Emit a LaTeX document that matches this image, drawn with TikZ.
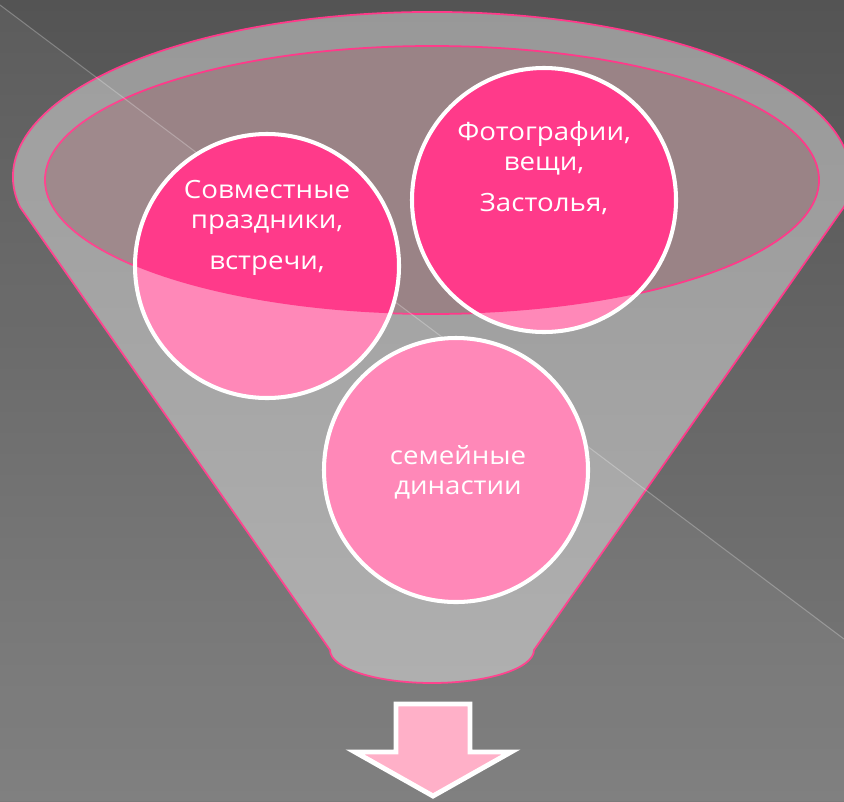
\documentclass[tikz,border=0pt]{standalone}
\usepackage{fontspec}
\newfontfamily\bubblefont{Open Sans}[FakeStretch=1.1]
\usetikzlibrary{positioning}
\definecolor{bgtop}{HTML}{545454}
\definecolor{bgbot}{HTML}{7A7A7A}
\definecolor{rimtop}{HTML}{989898}
\definecolor{rimbot}{HTML}{ABABAB}
\definecolor{mouth}{HTML}{9A8386}
\definecolor{hotpink}{HTML}{FF3A8A}
\definecolor{softpink}{HTML}{FF88B8}
\definecolor{arrowpink}{HTML}{FFB0C8}
\tikzset{
edge/.style={draw=hotpink, line width=1pt},
bubble/.style={draw=white, line width=2.3pt},
caption/.style={text=white, align=center,
    font=\bubblefont\fontsize{14.3}{17}\selectfont}
}

\begin{document}
\begin{tikzpicture}[x=0.02cm,y=0.02cm,yscale=-1]
\useasboundingbox (0,0) rectangle (844,801);
% background
\shade[top color=bgtop,bottom color=bgbot] (0,0) rectangle (844,801);

% funnel
\draw[edge, top color=rimtop, bottom color=rimbot]
    (20,207) arc[start angle=169.5, end angle=370.5, x radius=419, y radius=165]
    -- (534,650) arc[start angle=0, end angle=180, x radius=102, y radius=33]
    -- cycle;
\draw[edge, fill=mouth] (432,180) ellipse[x radius=387, y radius=134];

% light band and its edge
\fill[white, opacity=0.05] (0,5) -- (844,639) -- (844,801) -- (0,801) -- cycle;
\draw[white, opacity=0.25, line width=0.6pt] (0,5) -- (844,639);

\coordinate (c1) at (267,266);
\coordinate (c2) at (544,200);
\coordinate (c3) at (456,470);

% circles
\fill[softpink] (c1) circle[radius=132] (c2) circle[radius=132] (c3) circle[radius=132];
\begin{scope}
\clip (432,180) ellipse[x radius=387, y radius=134];
\fill[hotpink] (c1) circle[radius=132] (c2) circle[radius=132];
\end{scope}
\draw[bubble] (c1) circle[radius=132] (c2) circle[radius=132] (c3) circle[radius=132];

\node[caption] (t1) at (267,228) {Совместные\\праздники,\\[6pt]встречи,};
\node[caption] (t2) at (544,168) {Фотографии,\\вещи,\\[6pt]Застолья,};
\node[caption] (t3) at (458,472) {семейные\\династии};

% arrow
\draw[draw=white, line width=2.8pt, fill=arrowpink, line join=miter]
    (396,704) -- (470,704) -- (470,752) -- (511,752) -- (433,796)
    -- (355,752) -- (396,752) -- cycle;
\end{tikzpicture}
\end{document}
